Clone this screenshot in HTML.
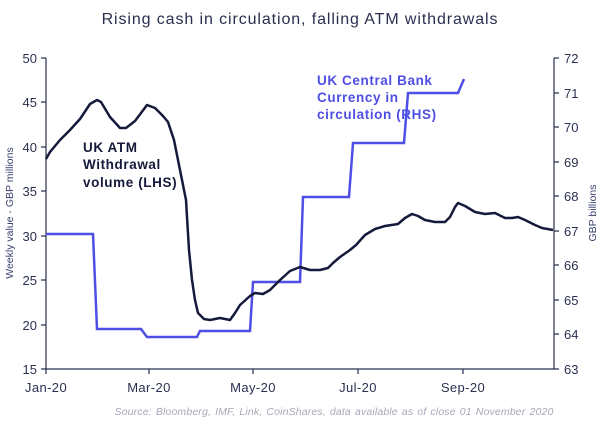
<!DOCTYPE html><html><head><style>body{margin:0;background:#fff}svg{display:block;font-family:"Liberation Sans",sans-serif}</style></head><body>
<svg width="602" height="425" viewBox="0 0 602 425">
<text x="300" y="24" text-anchor="middle" font-size="16" letter-spacing="0.9" fill="#2a2f4f">Rising cash in circulation, falling ATM withdrawals</text>
<g stroke="#2a3050" stroke-width="1.2" fill="none">
<path d="M46 58V369H554V58"/>
<path d="M41 58H46M41 102H46M41 147H46M41 191H46M41 236H46M41 280H46M41 325H46M41 369H46"/>
<path d="M554 58H559M554 93H559M554 127H559M554 162H559M554 196H559M554 231H559M554 265H559M554 300H559M554 334H559M554 369H559"/>
<path d="M46 369V374M149 369V374M253 369V374M358 369V374M463 369V374"/>
</g>
<g font-size="13" fill="#2a3050" text-anchor="end">
<text x="37" y="63">50</text><text x="37" y="107">45</text><text x="37" y="152">40</text><text x="37" y="196">35</text><text x="37" y="241">30</text><text x="37" y="285">25</text><text x="37" y="330">20</text><text x="37" y="374">15</text>
</g>
<g font-size="13" fill="#2a3050">
<text x="564" y="63">72</text><text x="564" y="98">71</text><text x="564" y="132">70</text><text x="564" y="167">69</text><text x="564" y="201">68</text><text x="564" y="236">67</text><text x="564" y="270">66</text><text x="564" y="305">65</text><text x="564" y="339">64</text><text x="564" y="374">63</text>
</g>
<g font-size="13" fill="#2a3050" text-anchor="middle" letter-spacing="0.4">
<text x="46" y="392">Jan-20</text><text x="149" y="392">Mar-20</text><text x="253" y="392">May-20</text><text x="358" y="392">Jul-20</text><text x="463" y="392">Sep-20</text>
</g>
<text transform="translate(13 213) rotate(-90)" text-anchor="middle" font-size="10.5" fill="#3a4070">Weekly value - GBP millions</text>
<text transform="translate(596 213) rotate(-90)" text-anchor="middle" font-size="10.5" fill="#3a4070">GBP billions</text>
<path fill="none" stroke="#4f4fe6" stroke-width="2.5" d="M46 234H93L97 329H141L147 337H197L200 331H250L253 282H300L303 197H349L353 143H404L408 93H458L464 79"/>
<path fill="none" stroke="#15193b" stroke-width="2.5" stroke-linejoin="round" d="M46 159L50 152L60 140L70 130L80 119L90 104L97 100L101 102L110 117L120 128L126 128L135 121L147 105L155 108L163 116L168 122L174 140L180 170L186 200L189 250L192 280L195 300L198 313L204 319L210 320L220 318L230 320L235 313L240 305L250 296L255 293L263 294L270 290L280 280L290 271L300 267L310 270L320 270L328 268L333 263L340 257L350 250L356 245L365 235L375 229L385 226L398 224L405 218L412 214L418 216L425 220L435 222L445 222L450 217L455 207L458 203L465 206L475 212L485 214L495 213L505 218L512 218L518 217L525 220L535 225L542 228L553 230"/>
<g font-size="13.5" fill="#15193b" font-weight="600" letter-spacing="0.6">
<text x="83" y="152">UK ATM</text><text x="83" y="169">Withdrawal</text><text x="83" y="187">volume (LHS)</text>
</g>
<g font-size="13.5" fill="#4f4fe6" font-weight="600" letter-spacing="0.6">
<text x="317" y="85">UK Central Bank</text><text x="317" y="102">Currency in</text><text x="317" y="119">circulation (RHS)</text>
</g>
<text x="334" y="415" text-anchor="middle" font-size="10.5" font-style="italic" letter-spacing="0.15" word-spacing="1" fill="#a8a8b8">Source:  Bloomberg,  IMF, Link, CoinShares,  data available as of close 01 November 2020</text>
</svg></body></html>
